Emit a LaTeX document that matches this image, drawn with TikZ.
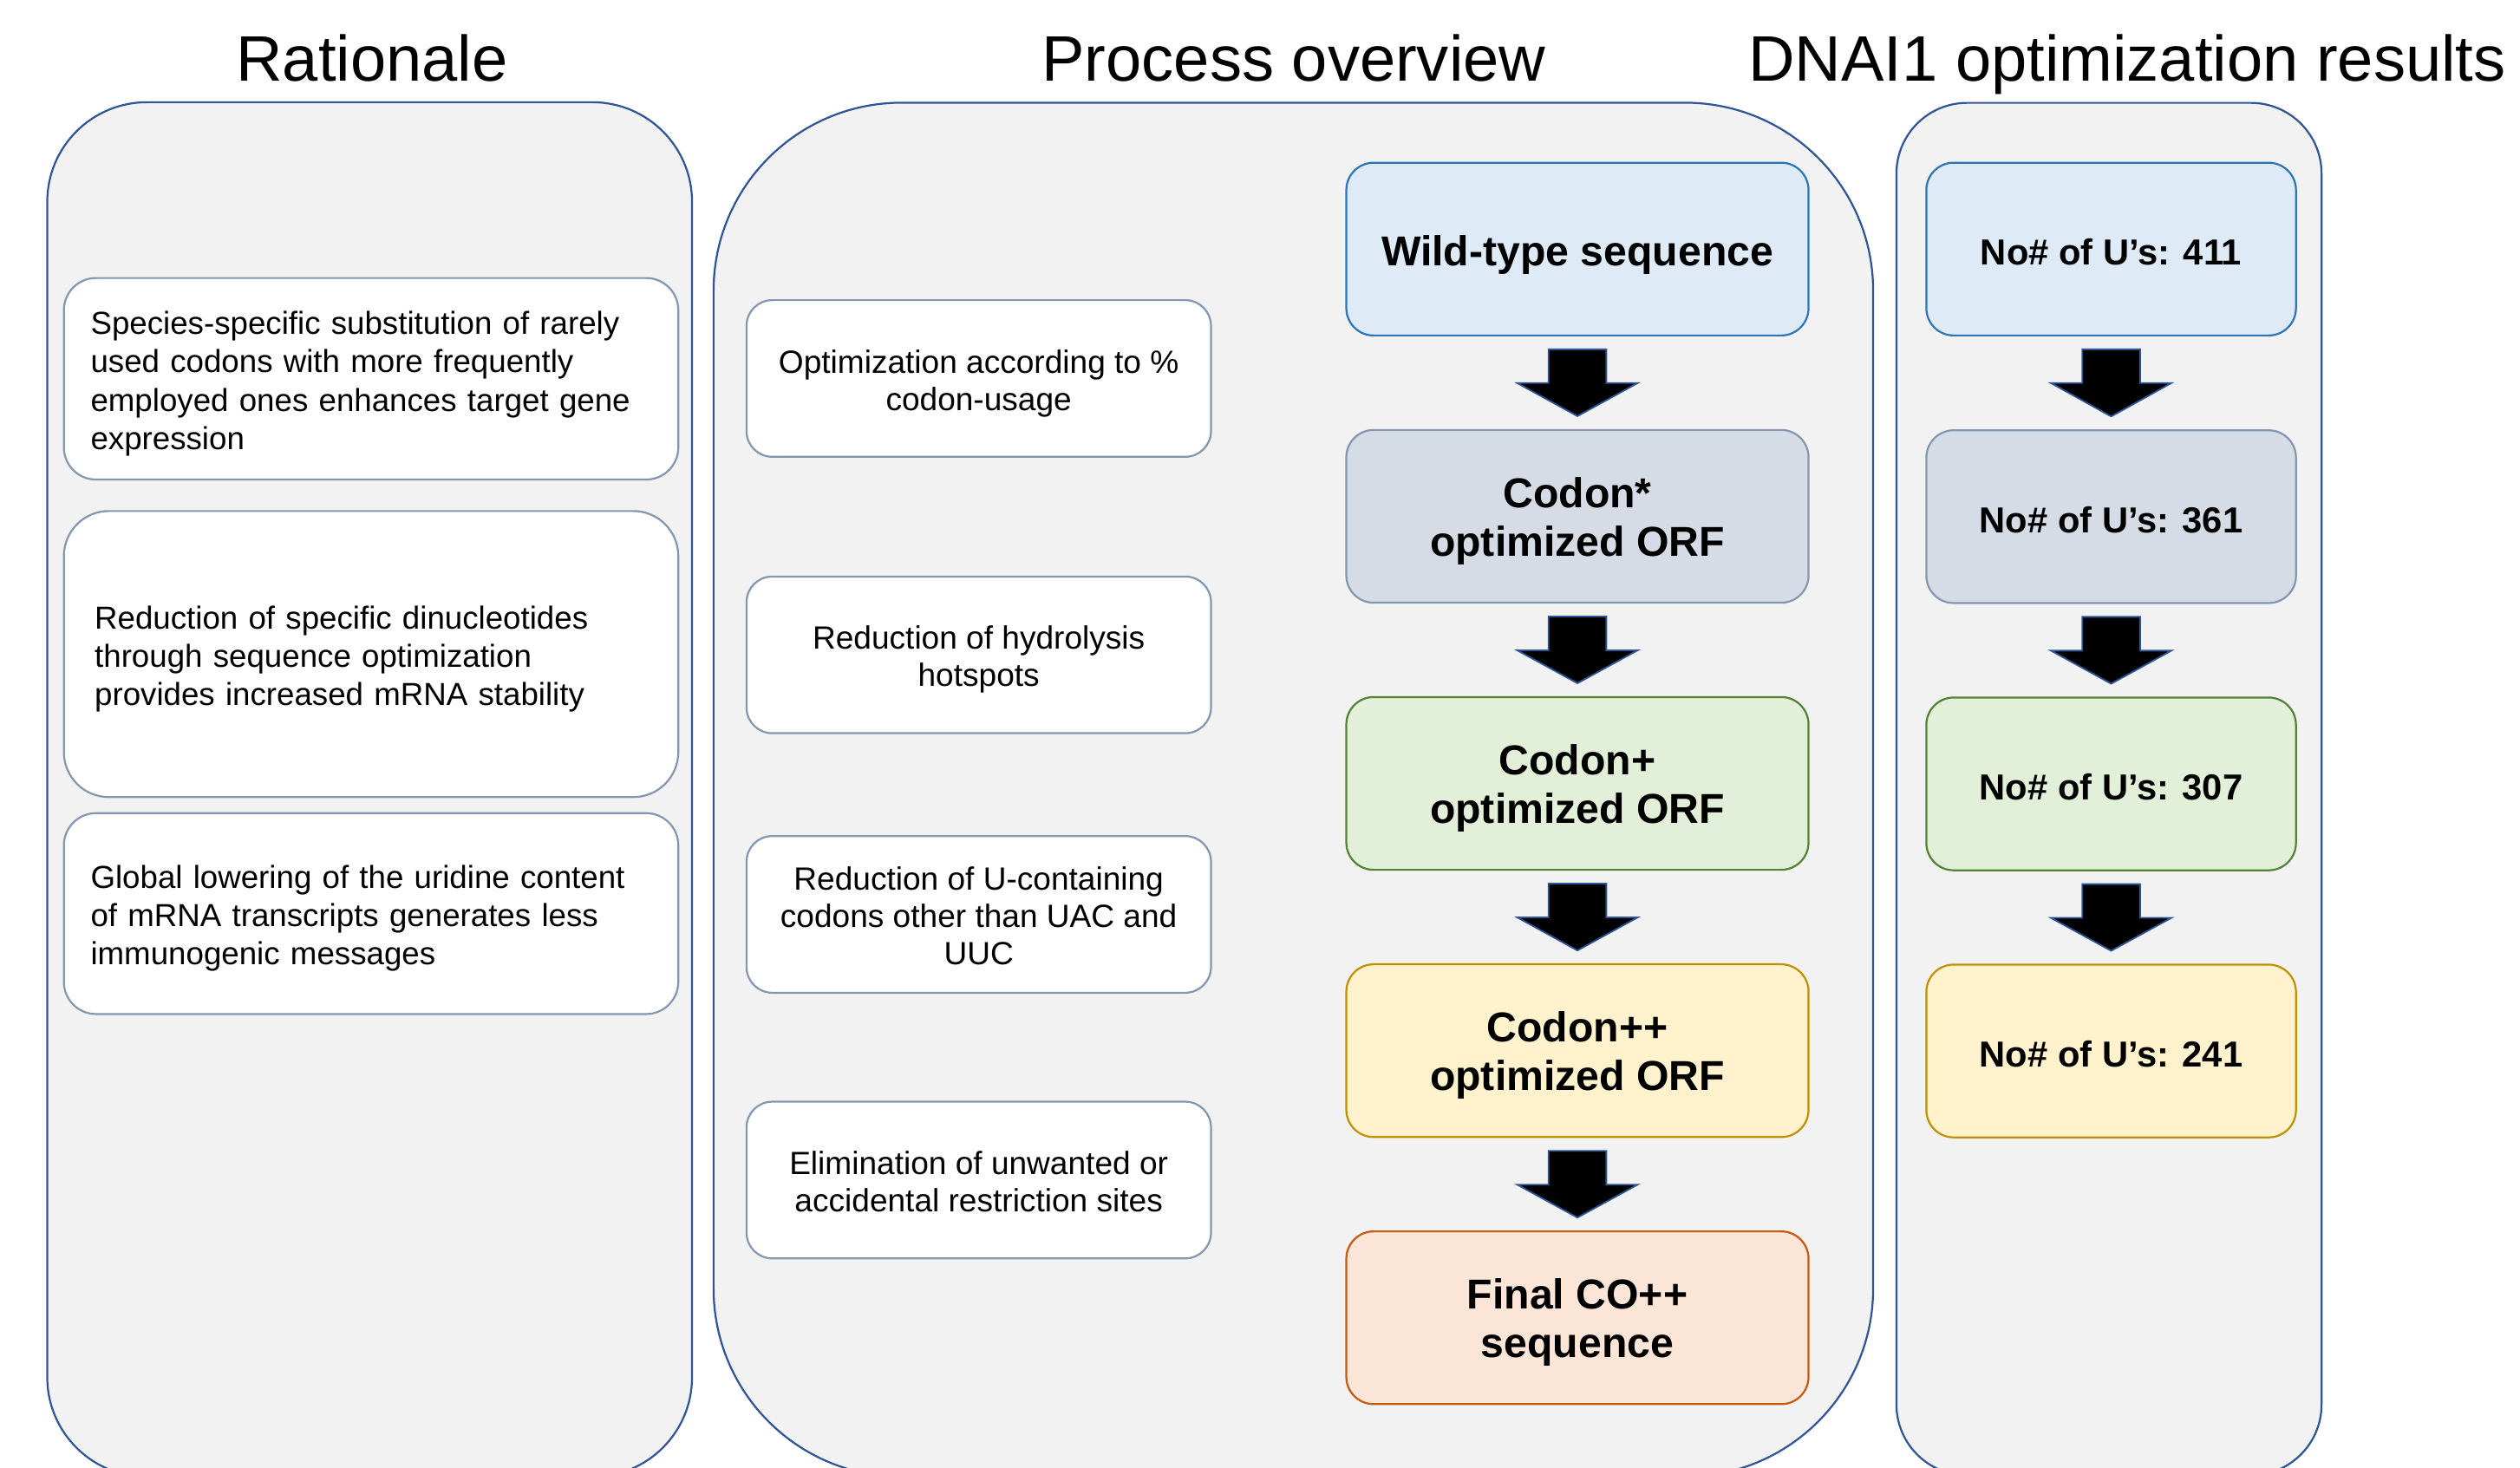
\documentclass[tikz,border=0pt]{standalone}
\usepackage{fontspec}
\setmainfont{Liberation Sans}
\usetikzlibrary{calc}
\definecolor{panelfill}{HTML}{F2F2F2}
\definecolor{panelline}{HTML}{2F5597}
\definecolor{boxline}{HTML}{8497B0}
\definecolor{wtfill}{HTML}{DEEBF7}
\definecolor{wtline}{HTML}{2E75B6}
\definecolor{cafill}{HTML}{D6DCE5}
\definecolor{cbfill}{HTML}{E2F0D9}
\definecolor{cbline}{HTML}{548235}
\definecolor{ccfill}{HTML}{FFF2CC}
\definecolor{ccline}{HTML}{BF9000}
\definecolor{cdfill}{HTML}{FBE5D6}
\definecolor{cdline}{HTML}{C55A11}
\newcommand{\blockarrow}[2]{%
  \draw[barrow] ($(#1.south)+(-18,8)$) -- ($(#1.south)+(18,8)$) -- ($(#1.south)+(18,29)$)
    -- ($(#1.south)+(37.5,29)$) -- ($(#2.north)+(0,-8)$) -- ($(#1.south)+(-37.5,29)$)
    -- ($(#1.south)+(-18,29)$) -- cycle;}
\begin{document}
\begin{tikzpicture}[x=1pt,y=-1pt,
  title/.style={font=\fontsize{40}{46}\selectfont, inner sep=0, anchor=base},
  panel/.style={draw=panelline, fill=panelfill, line width=1.2pt, inner sep=0},
  leftbox/.style={draw=boxline, fill=white, line width=1.2pt, rounded corners=20pt,
     inner sep=0, minimum width=382.3pt},
  lefttext/.style={inner sep=0, text width=350pt, align=left,
     font=\fontsize{19.8}{23.9}\selectfont},
  midbox/.style={draw=boxline, fill=white, line width=1.2pt, rounded corners=16pt,
     inner sep=0, minimum width=289pt, minimum height=97.5pt},
  midtext/.style={inner sep=0, align=center, font=\fontsize{20}{23.3}\selectfont},
  colbox/.style={line width=1.2pt, rounded corners=17pt, inner sep=0,
     minimum width=287.6pt, minimum height=107.5pt},
  coltext/.style={inner sep=0, align=center, font=\fontsize{26}{30}\selectfont\bfseries},
  resbox/.style={line width=1.2pt, rounded corners=17pt, inner sep=0,
     minimum width=230pt, minimum height=107.5pt},
  restext/.style={inner sep=0, align=center, font=\fontsize{22.5}{26}\selectfont\bfseries},
  barrow/.style={fill=black, draw=panelline, line width=1pt, line join=miter}
]
\useasboundingbox (0,0) rectangle (1568,913);

% titles
\node[title] (t1) at (231.5,50.6) {Rationale};
\node[title] (t2) at (805,50.6) {Process overview};
\node[title] (t3) at (1323.5,50.6) {DNAI1 optimization results};

% panels
\node[panel, rounded corners=62pt, minimum width=401.2pt, minimum height=855.4pt] (p1) at (230,491.3) {};
\node[panel, rounded corners=117pt, minimum width=721.5pt, minimum height=855pt] (p2) at (804.75,491.4) {};
\node[panel, rounded corners=44pt, minimum width=264.5pt, minimum height=854pt] (p3) at (1312.25,491) {};

% rationale boxes
\node[leftbox, minimum height=125.4pt] (l1) at (230.9,235.7) {};
\node[lefttext] (l1t) at ($(l1.center)+(0.5,3)$)
  {Species-specific substitution of rarely\\used codons with more frequently\\employed ones enhances target gene\\expression};
\node[leftbox, rounded corners=28pt, minimum height=178pt] (l2) at (230.9,407) {};
\node[lefttext] (l2t) at ($(l2.center)+(3,3)$)
  {Reduction of specific dinucleotides\\through sequence optimization\\provides increased mRNA stability};
\node[leftbox, minimum height=125pt] (l3) at (230.9,568.5) {};
\node[lefttext] (l3t) at ($(l3.center)+(0.5,3)$)
  {Global lowering of the uridine content\\of mRNA transcripts generates less\\immunogenic messages};

% process boxes
\node[midbox] (m1) at (609,235.5) {};
\node[midtext] (m1t) at ($(m1.center)+(0,3)$) {Optimization according to \%\\codon-usage};
\node[midbox] (m2) at (609,407.5) {};
\node[midtext] (m2t) at ($(m2.center)+(0,3)$) {Reduction of hydrolysis\\hotspots};
\node[midbox] (m3) at (609,569) {};
\node[midtext] (m3t) at ($(m3.center)+(0,0.8)$) {Reduction of U-containing\\codons other than UAC and\\UUC};
\node[midbox] (m4) at (609,734.3) {};
\node[midtext] (m4t) at ($(m4.center)+(0,1.2)$) {Elimination of unwanted or\\accidental restriction sites};

% sequence boxes
\node[colbox, draw=wtline, fill=wtfill] (s0) at (981.5,155) {};
\node[coltext] (s0t) at ($(s0.center)+(0,3.5)$) {Wild-type sequence};
\node[colbox, draw=boxline, fill=cafill] (s1) at (981.5,321.3) {};
\node[coltext] (s1t) at ($(s1.center)+(0,3)$) {Codon*\\optimized ORF};
\node[colbox, draw=cbline, fill=cbfill] (s2) at (981.5,487.5) {};
\node[coltext] (s2t) at ($(s2.center)+(0,3)$) {Codon+\\optimized ORF};
\node[colbox, draw=ccline, fill=ccfill] (s3) at (981.5,653.8) {};
\node[coltext] (s3t) at ($(s3.center)+(0,3)$) {Codon++\\optimized ORF};
\node[colbox, draw=cdline, fill=cdfill] (s4) at (981.5,820) {};
\node[coltext] (s4t) at ($(s4.center)+(0,3)$) {Final CO++\\sequence};

% result boxes
\node[resbox, draw=wtline, fill=wtfill] (r0) at (1313.6,155) {};
\node[restext] (r0t) at ($(r0.center)+(0,2)$) {No\# of U’s: 411};
\node[resbox, draw=boxline, fill=cafill] (r1) at (1313.6,321.5) {};
\node[restext] (r1t) at ($(r1.center)+(0,2)$) {No\# of U’s: 361};
\node[resbox, draw=cbline, fill=cbfill] (r2) at (1313.6,487.8) {};
\node[restext] (r2t) at ($(r2.center)+(0,2)$) {No\# of U’s: 307};
\node[resbox, draw=ccline, fill=ccfill] (r3) at (1313.6,654) {};
\node[restext] (r3t) at ($(r3.center)+(0,2)$) {No\# of U’s: 241};

% block arrows
\blockarrow{s0}{s1}
\blockarrow{s1}{s2}
\blockarrow{s2}{s3}
\blockarrow{s3}{s4}
\blockarrow{r0}{r1}
\blockarrow{r1}{r2}
\blockarrow{r2}{r3}
\end{tikzpicture}
\end{document}
